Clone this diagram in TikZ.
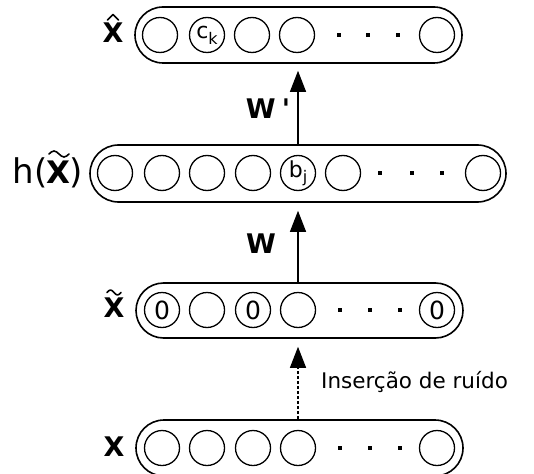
\documentclass[tikz,border=0pt]{standalone}
\usepackage{fontspec}
\setmainfont{DejaVu Sans}
\usetikzlibrary{shapes.misc,arrows.meta}
\begin{document}
\begin{tikzpicture}[x=1pt,y=-1pt,
  layer/.style={rounded rectangle, draw, line width=1.6pt, minimum height=56pt, inner sep=0pt},
  unit/.style={circle, draw, line width=1.3pt, minimum size=35pt, inner sep=0pt, font=\fontsize{22}{22}\selectfont},
  zero/.style={unit, font=\fontsize{25}{25}\selectfont},
  dotsq/.style={rectangle, fill, minimum size=4.5pt, inner sep=0pt},
  conn/.style={line width=1.2pt, -{Triangle[length=21pt,width=16pt]}},
  rowlabel/.style={anchor=base, inner sep=0pt, font=\fontsize{27}{27}\selectfont\bfseries},
  hlabel/.style={anchor=base west, inner sep=0pt, font=\fontsize{34}{34}\selectfont},
  accent/.style={line width=1.6pt, line cap=round, line join=round},
  wlabel/.style={anchor=base, inner sep=0pt, font=\fontsize{27}{27}\selectfont\bfseries}
]
\useasboundingbox (0,0) rectangle (534,473);

% layer boxes
\node[layer, minimum width=327pt] (A) at (298.5,35) {};
\node[layer, minimum width=416pt, minimum height=57pt] (B) at (298,173.5) {};
\node[layer, minimum width=327pt, minimum height=55pt] (C) at (299.5,310.5) {};
\node[layer, minimum width=327pt] (D) at (299.5,448) {};

% row A: x hat
\node[unit] (a1) at (160,35) {};
\node[unit] (a2) at (207,35) {\raisebox{1pt}{c}\raisebox{-5pt}{\fontsize{16}{16}\selectfont k}};
\node[unit] (a3) at (252,35) {};
\node[unit] (a4) at (297,35) {};
\node[unit] (a5) at (437,35) {};
\node[dotsq] (ad1) at (339,35) {};
\node[dotsq] (ad2) at (368,35) {};
\node[dotsq] (ad3) at (398,35) {};

% row B: hidden
\node[unit] (b1) at (115,173) {};
\node[unit] (b2) at (162,173) {};
\node[unit] (b3) at (207,173) {};
\node[unit] (b4) at (253,173) {};
\node[unit] (b5) at (298,173) {b\raisebox{-5pt}{\fontsize{16}{16}\selectfont j}};
\node[unit] (b6) at (343,173) {};
\node[unit] (b7) at (483,173) {};
\node[dotsq] (bd1) at (380,173) {};
\node[dotsq] (bd2) at (412,173) {};
\node[dotsq] (bd3) at (442,173) {};

% row C: corrupted input
\node[zero] (c1) at (162,310) {0};
\node[unit] (c2) at (207,310) {};
\node[zero] (c3) at (253,310) {0};
\node[unit] (c4) at (298,310) {};
\node[zero] (c5) at (437,310) {0};
\node[dotsq] (cd1) at (340,310) {};
\node[dotsq] (cd2) at (370,310) {};
\node[dotsq] (cd3) at (400,310) {};

% row D: input
\node[unit] (d1) at (162,448) {};
\node[unit] (d2) at (207,448) {};
\node[unit] (d3) at (253,448) {};
\node[unit] (d4) at (298,448) {};
\node[unit] (d5) at (437,448) {};
\node[dotsq] (dd1) at (340,448) {};
\node[dotsq] (dd2) at (370,448) {};
\node[dotsq] (dd3) at (400,448) {};

% row labels
\node[rowlabel] (lA) at (113,42.5) {X};
\draw[accent] (107.5,20) -- (113,14.5) -- (118.5,20);

\node[hlabel] (lB) at (12,183.5) {h\hspace{1pt}(\hspace{-2pt}{\fontsize{31}{31}\selectfont\bfseries X}\hspace{-0.5pt})};
\draw[accent] (49,154) sin (54,151) cos (59,154) sin (64,157) cos (69,154);

\node[rowlabel] (lC) at (114,317.5) {X};
\draw[accent] (107,292.5) sin (110.5,290) cos (114,292.5) sin (117.5,295) cos (121,292.5);

\node[rowlabel] (lD) at (114,456) {X};

% connectors
\draw[conn] (B.north -| b5) -- ([yshift=-7pt]A.south -| b5);
\draw[conn] (C.north -| c4) -- ([yshift=-8pt]B.south -| c4);
\draw[conn, dash pattern=on 3pt off 2pt] (D.north -| d4) -- ([yshift=-8pt]C.south -| d4);

% connector labels
\node[wlabel] (wp) at (268,118.5) {W\hspace{6pt}\textquotesingle};
\node[wlabel] (w) at (261,253.5) {W};
\node[anchor=base west, inner sep=0pt, font=\fontsize{21.5}{21.5}\selectfont] (noise) at (321,388) {Inserção de ruído};
\end{tikzpicture}
\end{document}
